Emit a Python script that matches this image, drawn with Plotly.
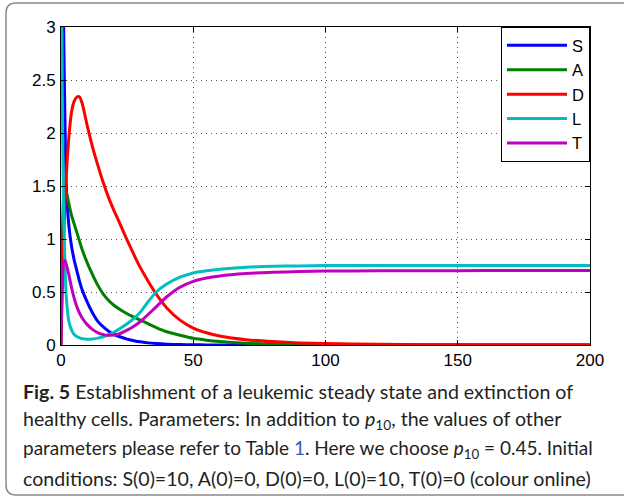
import plotly.graph_objects as go

# ---- data ----
t = [0, 0.25, 0.5, 1, 1.5, 2, 3, 4, 5, 6, 7, 8, 10, 12, 14, 16, 18, 20, 22, 25,
     28, 30, 33, 36, 40, 45, 50, 55, 60, 70, 80, 90, 100, 120, 140, 160, 180, 200]

S = [10, 7.0, 5.0, 3.0, 2.1, 1.5, 1.12, 0.93, 0.8, 0.7, 0.6, 0.52, 0.4, 0.3, 0.22, 0.17, 0.13, 0.1, 0.08, 0.055,
     0.038, 0.03, 0.02, 0.014, 0.008, 0.004, 0.002, 0.001, 0.0005, 0, 0, 0, 0, 0, 0, 0, 0, 0]
A = [0, 0.6, 1.0, 1.42, 1.5, 1.45, 1.33, 1.22, 1.14, 1.06, 0.98, 0.9, 0.77, 0.66, 0.56, 0.48, 0.42, 0.375, 0.34, 0.295,
     0.258, 0.235, 0.2, 0.165, 0.125, 0.092, 0.063, 0.045, 0.032, 0.016, 0.008, 0.004, 0.002, 0.0005, 0, 0, 0, 0]
D = [0, 0.3, 0.55, 1.0, 1.35, 1.6, 1.97, 2.2, 2.3, 2.34, 2.34, 2.28, 2.06, 1.86, 1.69, 1.53, 1.39, 1.27, 1.16, 0.99,
     0.83, 0.73, 0.6, 0.48, 0.35, 0.235, 0.16, 0.115, 0.085, 0.05, 0.032, 0.02, 0.013, 0.006, 0.003, 0.001, 0, 0]
L = [10, 3.5, 2.3, 1.25, 0.75, 0.45, 0.22, 0.14, 0.1, 0.08, 0.068, 0.06, 0.055, 0.057, 0.065, 0.078, 0.095, 0.12, 0.15, 0.2,
     0.26, 0.31, 0.41, 0.5, 0.575, 0.64, 0.68, 0.7, 0.715, 0.733, 0.742, 0.746, 0.749, 0.75, 0.75, 0.75, 0.75, 0.75]
T = [0, 0.35, 0.6, 0.78, 0.8, 0.76, 0.66, 0.54, 0.44, 0.36, 0.3, 0.255, 0.19, 0.145, 0.115, 0.098, 0.092, 0.095, 0.105, 0.14,
     0.185, 0.22, 0.29, 0.36, 0.455, 0.545, 0.6, 0.632, 0.652, 0.674, 0.686, 0.693, 0.697, 0.7, 0.701, 0.702, 0.702, 0.702]

series_names = ["S", "A", "D", "L", "T"]
series_values = [S, A, D, L, T]
series_colors = ["#0000FF", "#008000", "#FF0000", "#00BFBF", "#BF00BF"]

x_ticks = [0, 50, 100, 150, 200]
y_ticks = [0, 0.5, 1, 1.5, 2, 2.5, 3]
y_tick_labels = ["0", "0.5", "1", "1.5", "2", "2.5", "3"]

caption_lines = [
    "<b>Fig. 5</b> Establishment of a leukemic steady state and extinction of",
    "healthy cells. Parameters: In addition to <i>p</i><sub>10</sub>, the values of other",
    "parameters please refer to Table <span style='color:#3355cc'>1</span>. Here we choose <i>p</i><sub>10</sub> = 0.45. Initial",
    "conditions: S(0)=10, A(0)=0, D(0)=0, L(0)=10, T(0)=0 (colour online)",
]
caption_sizes = [19.6, 19.6, 19.0, 19.6]

# ---- layout geometry (pixels) ----
W, H = 624, 498
ML, MR, MT, MB = 61, 34, 27, 153
PW, PH = W - ML - MR, H - MT - MB


def px(xpix):
    return (xpix - ML) / PW


def py(ypix):
    return (H - MB - ypix) / PH


fig = go.Figure()
for name, vals, col in zip(series_names, series_values, series_colors):
    fig.add_trace(go.Scatter(x=t, y=vals, name=name, mode="lines",
                             line=dict(color=col, width=3, shape="spline", smoothing=0.6)))

axis_font = dict(family="Liberation Sans, Arial, sans-serif", size=17, color="black")

fig.update_xaxes(range=[0, 200], tickvals=x_ticks, ticks="inside", ticklen=5, tickcolor="black",
                 showline=True, linecolor="black", linewidth=1, mirror="ticks",
                 showgrid=True, gridcolor="#555555", gridwidth=1, griddash="1px,4px",
                 zeroline=False, tickfont=axis_font)
fig.update_yaxes(range=[0, 3], tickvals=y_ticks, ticktext=y_tick_labels, ticks="inside", ticklen=5,
                 tickcolor="black", showline=True, linecolor="black", linewidth=1, mirror="ticks",
                 showgrid=True, gridcolor="#555555", gridwidth=1, griddash="1px,4px",
                 zeroline=False, tickfont=axis_font, ticklabelstandoff=1)

# outer rounded frame
r = 10
x0, x1, y0, y1 = 6, 660, 3, 495
path = (f"M {px(x1)} {py(y0)} L {px(x0 + r)} {py(y0)} Q {px(x0)} {py(y0)} {px(x0)} {py(y0 + r)} "
        f"L {px(x0)} {py(y1 - r)} Q {px(x0)} {py(y1)} {px(x0 + r)} {py(y1)} L {px(x1)} {py(y1)}")
fig.add_shape(type="path", path=path, xref="paper", yref="paper",
              line=dict(color="#8a8a8a", width=1.5), layer="below")

baselines = [397, 426, 455, 484]
for line, b, fs in zip(caption_lines, baselines, caption_sizes):
    fig.add_annotation(text=line, xref="paper", yref="paper", x=px(21), y=py(b - 6),
                       xanchor="left", yanchor="middle", showarrow=False, align="left",
                       font=dict(family="Lato, Noto Sans, sans-serif", size=fs, color="#231f20"))

fig.update_layout(
    width=W, height=H,
    margin=dict(l=ML, r=MR, t=MT, b=MB, pad=0),
    paper_bgcolor="white", plot_bgcolor="white",
    showlegend=True,
    legend=dict(x=1, y=1, xanchor="right", yanchor="top", bgcolor="white",
                bordercolor="black", borderwidth=1,
                font=dict(family="Liberation Sans, Arial, sans-serif", size=16.5, color="black"),
                itemwidth=60, tracegroupgap=0),
)

fig.write_html("out.html", config={"displayModeBar": False},
               post_script="document.body.style.margin='0';document.body.style.overflow='hidden';")
